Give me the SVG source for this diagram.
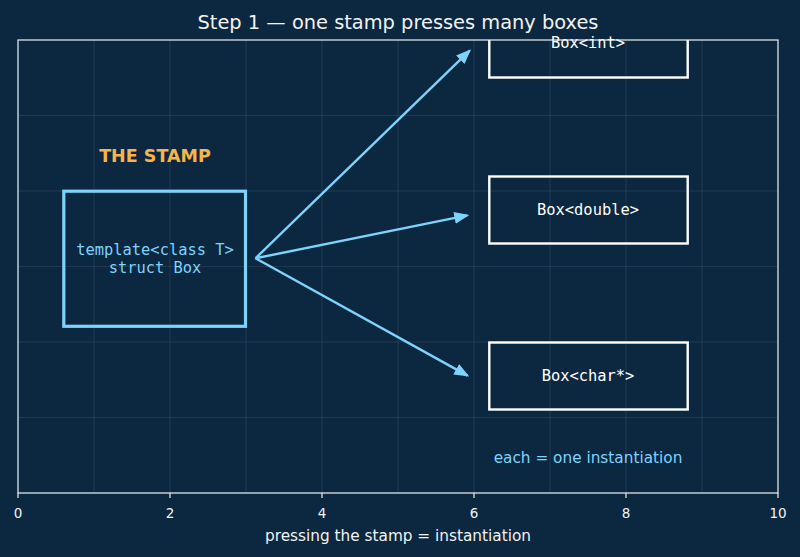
<svg xmlns="http://www.w3.org/2000/svg" width="800" height="557" viewBox="0 0 800 557">
  <style>
    .grid { stroke: #ffffff; stroke-opacity: 0.08; stroke-width: 1; }
    .spine { fill: none; stroke: #f2f2f2; stroke-width: 1.2; }
    .tick { stroke: #f2f2f2; stroke-width: 1.2; }
    .ticklbl { font-family: "DejaVu Sans", sans-serif; font-size: 13.5px; fill: #f2f2f2; text-anchor: middle; }
    .title { font-family: "DejaVu Sans", sans-serif; font-size: 19.4px; fill: #f2f2f2; text-anchor: middle; }
    .xlabel { font-family: "DejaVu Sans", sans-serif; font-size: 15.3px; fill: #f2f2f2; text-anchor: middle; }
    .stampbox { fill: none; stroke: #7dd3fc; stroke-width: 3.2; }
    .outbox { fill: none; stroke: #ffffff; stroke-width: 2.4; }
    .mono { font-family: "DejaVu Sans Mono", monospace; font-size: 15.4px; text-anchor: middle; }
    .arrow { stroke: #7dd3fc; stroke-width: 2.4; fill: none; marker-end: url(#head); }
  </style>
  <defs>
    <marker id="head" markerUnits="userSpaceOnUse" markerWidth="16" markerHeight="14" viewBox="0 0 16 14" refX="13" refY="7" orient="auto">
      <path d="M0,1 L15,7 L0,13 z" fill="#7dd3fc"/>
    </marker>
    <clipPath id="axclip">
      <rect x="18" y="40" width="760" height="453"/>
    </clipPath>
  </defs>

  <rect x="0" y="0" width="800" height="557" fill="#0c2840"/>

  <g id="grid">
    <line class="grid" x1="94" y1="40" x2="94" y2="493"/>
    <line class="grid" x1="170" y1="40" x2="170" y2="493"/>
    <line class="grid" x1="246" y1="40" x2="246" y2="493"/>
    <line class="grid" x1="322" y1="40" x2="322" y2="493"/>
    <line class="grid" x1="398" y1="40" x2="398" y2="493"/>
    <line class="grid" x1="474" y1="40" x2="474" y2="493"/>
    <line class="grid" x1="550" y1="40" x2="550" y2="493"/>
    <line class="grid" x1="626" y1="40" x2="626" y2="493"/>
    <line class="grid" x1="702" y1="40" x2="702" y2="493"/>
    <line class="grid" x1="18" y1="115.5" x2="778" y2="115.5"/>
    <line class="grid" x1="18" y1="191" x2="778" y2="191"/>
    <line class="grid" x1="18" y1="266.5" x2="778" y2="266.5"/>
    <line class="grid" x1="18" y1="342" x2="778" y2="342"/>
    <line class="grid" x1="18" y1="417.5" x2="778" y2="417.5"/>
  </g>

  <text class="title" x="398" y="29">Step 1 — one stamp presses many boxes</text>

  <g id="stamp-label">
    <text x="155" y="161.5" font-family="DejaVu Sans, sans-serif" font-weight="bold" font-size="17.5px" fill="#f5b54a" text-anchor="middle">THE STAMP</text>
  </g>

  <g id="stamp">
    <rect class="stampbox" x="63.8" y="191.2" width="181.7" height="135.1"/>
    <text class="mono" x="155" y="255" fill="#7dd3fc">template&lt;class T&gt;</text>
    <text class="mono" x="155" y="272.7" fill="#7dd3fc">struct Box</text>
  </g>

  <g id="box-int">
    <rect class="outbox" x="489.3" y="10" width="198.4" height="67.5" clip-path="url(#axclip)"/>
    <text class="mono" x="588" y="48.3" fill="#ffffff">Box&lt;int&gt;</text>
  </g>

  <g id="box-double">
    <rect class="outbox" x="489.3" y="176.5" width="198.4" height="67"/>
    <text class="mono" x="588" y="215" fill="#ffffff">Box&lt;double&gt;</text>
  </g>

  <g id="box-char">
    <rect class="outbox" x="489.3" y="342.5" width="198.4" height="67"/>
    <text class="mono" x="588" y="381" fill="#ffffff">Box&lt;char*&gt;</text>
  </g>

  <g id="connectors">
    <line class="arrow" x1="255.5" y1="258.3" x2="469.6" y2="50.7"/>
    <line class="arrow" x1="255.5" y1="258.3" x2="467.3" y2="215.4"/>
    <line class="arrow" x1="255.5" y1="258.3" x2="467.5" y2="375.6"/>
  </g>

  <g id="note">
    <text x="588" y="463" font-family="DejaVu Sans, sans-serif" font-size="15.3px" fill="#7dd3fc" text-anchor="middle">each = one instantiation</text>
  </g>

  <g id="axes">
    <rect class="spine" x="18" y="40" width="760" height="453"/>
    <line class="tick" x1="18" y1="493" x2="18" y2="498"/>
    <line class="tick" x1="170" y1="493" x2="170" y2="498"/>
    <line class="tick" x1="322" y1="493" x2="322" y2="498"/>
    <line class="tick" x1="474" y1="493" x2="474" y2="498"/>
    <line class="tick" x1="626" y1="493" x2="626" y2="498"/>
    <line class="tick" x1="778" y1="493" x2="778" y2="498"/>
    <text class="ticklbl" x="18" y="518">0</text>
    <text class="ticklbl" x="170" y="518">2</text>
    <text class="ticklbl" x="322" y="518">4</text>
    <text class="ticklbl" x="474" y="518">6</text>
    <text class="ticklbl" x="626" y="518">8</text>
    <text class="ticklbl" x="778" y="518">10</text>
    <text class="xlabel" x="398" y="541">pressing the stamp = instantiation</text>
  </g>
</svg>
